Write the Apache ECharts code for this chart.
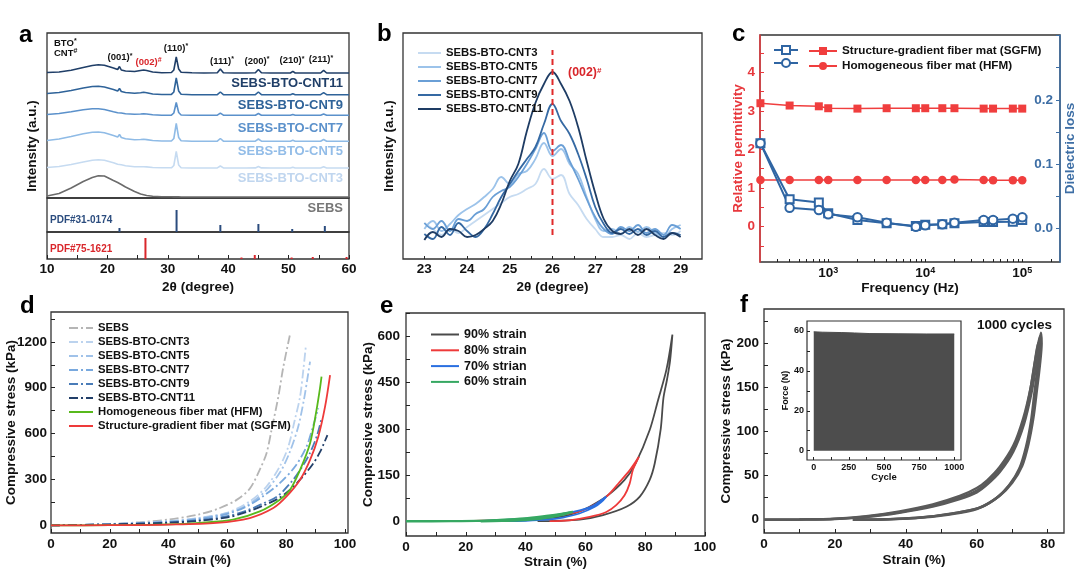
<!DOCTYPE html>
<html><head><meta charset="utf-8">
<script src="https://cdn.jsdelivr.net/npm/echarts@6/dist/echarts.min.js"></script>
<style>html,body{margin:0;padding:0;background:#fff}#c{width:1080px;height:571px}</style>
</head><body><div id="c"></div>
<script>
const FONT = '"Liberation Sans", Arial, Helvetica, sans-serif';

// ---------- panel a : XRD ----------
const xrdX = [10,12,14,16,17.5,18.5,19.5,21,21.7,22,22.3,23,24.5,25.5,26,26.5,27.5,29,30.6,31.0,31.4,31.8,32.2,34,36,38.2,38.7,39.2,41,43,44.5,45,45.5,47,49,50.3,50.7,51.1,53,55.3,55.8,56.3,58,60];
const xrdCNT11 = [125.5,126,127.7,130.5,132.5,133.3,132.8,130,128.5,131.5,128,127,126.5,127.5,128,127.5,126,125.3,125.5,128,141,129,125.8,125.2,125,125.3,129,125.3,125,125,125.3,128.5,125.3,125,125,125,126.7,125,125,125,127.7,125,125,125];
const xrdCNT9 = [104.5,105.5,107.5,110,111.5,111.8,111,108.5,107,109.5,106.5,105.5,104.8,105.3,105.8,105.3,104,103.5,103.6,106,120,107,103.8,103.3,103.3,103.4,106,103.4,103.3,103.3,103.4,106,103.4,103.3,103.3,103.3,104.3,103.3,103.3,103.3,105.3,103.3,103.3,103.3];
const xrdCNT7 = [83.5,84.5,86.3,88.3,89.2,89.2,88.5,86.3,85.3,86.8,85,84.3,83.8,84,84.3,84,83.2,82.8,82.9,85,95.5,85.5,83,82.7,82.7,82.8,84.8,82.8,82.7,82.7,82.8,84.5,82.8,82.7,82.7,82.7,83.5,82.7,82.7,82.7,84,82.7,82.7,82.7];
const xrdCNT5 = [57.5,59,61.5,64.3,65.8,66,65.3,62.5,61,63.5,60.5,59.3,58.3,58.5,58.8,58.4,57.5,57,57,59.5,74.5,60.5,57.2,56.8,56.7,56.8,59.5,56.8,56.7,56.7,56.8,59,56.8,56.7,56.7,56.7,57.7,56.7,56.7,56.7,58.5,56.7,56.7,56.7];
const xrdCNT3 = [30.5,31.5,33.5,36,37.8,38.3,37.8,35.3,33.8,35.8,33.2,32.3,31.3,31.2,31.3,31.1,30.5,30.2,30.2,32.5,46.5,33,30.3,30,30,30.1,32,30.1,30,30,30.1,31.5,30.1,30,30,30,30.8,30,30,30,31.2,30,30,30];
const xrdSEBS = [2,4.5,10,16.5,20.5,22.3,22,17.5,15.5,14.5,13.5,11,6.5,4,3.3,2.5,1.8,1.3,1.2,1.1,1.1,1.1,1,1,1,1,1,1,1,1,1,1,1,1,1,1,1,1,1,1,1,1,1,1];
const pdf31 = [[22.0,4],[31.45,22],[38.7,7],[45.0,8],[50.6,3],[56.0,6]];
const pdf75 = [[26.3,21],[42.2,1.5],[44.4,4],[50.5,1.5],[54.0,2],[59.6,2]];
const aTicksX = [10,20,30,40,50,60];

// ---------- panel b : (002) peak ----------
const bX = [23,23.2,23.4,23.6,23.8,24,24.2,24.4,24.6,24.8,25,25.2,25.4,25.6,25.8,26,26.2,26.4,26.6,26.8,27,27.2,27.4,27.6,27.8,28,28.2,28.4,28.6,28.8,29];
const bCNT3 = [36,30,24,30,26,32,38,44,50,56,62,65,70,75,90,80,84,65,54,40,30,22,22,24,20,26,22,24,26,24,28];
const bCNT5 = [30,38,28,35,44,50,55,62,70,82,75,85,88,100,116,103,110,95,85,62,40,28,30,25,32,27,32,26,22,30,34];
const bCNT7 = [36,30,38,28,40,38,45,50,62,68,72,82,95,110,126,108,114,98,80,60,42,30,25,32,28,34,26,30,24,34,30];
const bCNT9 = [25,20,32,24,36,28,22,30,45,62,75,88,100,112,135,155,138,125,105,80,52,35,26,30,25,30,24,28,22,26,24];
const bCNT11 = [19,27,22,30,28,22,24,30,38,55,78,95,128,156,175,187,175,158,132,98,66,40,28,25,30,24,30,24,20,26,22];
const bRefLine = [[26,24],[26,209]];
const bTicksX = [23,24,25,26,27,28,29];

// ---------- panel c : dielectric ----------
const cFreq = [200,400,800,1000,2000,4000,8000,10000,15000,20000,40000,50000,80000,100000];
const cPermSGFM = [3.20,3.14,3.12,3.07,3.06,3.07,3.07,3.07,3.07,3.07,3.06,3.06,3.06,3.06];
const cPermHFM = [1.21,1.21,1.21,1.21,1.21,1.21,1.21,1.21,1.21,1.22,1.21,1.20,1.20,1.20];
const cLossSGFM = [0.1325,0.0452,0.040,0.0234,0.013,0.0078,0.0036,0.0056,0.0062,0.0078,0.0098,0.0098,0.0103,0.013];
const cLossHFM = [0.1325,0.0321,0.0285,0.0218,0.0171,0.0088,0.0025,0.0047,0.0062,0.0088,0.013,0.013,0.015,0.0171];
const cTicksLeft = [0,1,2,3,4];
const cTicksRight = [0,0.1,0.2];

// ---------- panel d : compressive curves ----------
const dSEBS = [[0,0],[10,3],[20,9],[30,20],[40,38],[50,70],[57,110],[63,165],[67.6,240],[71,364],[73.3,472],[75,624],[77.3,840],[79,1035],[81.2,1241]];
const dCNT3 = [[0,0],[20,8],[40,28],[50,48],[59.7,81],[67.6,157],[73.3,254],[77.8,385],[80.7,515],[82.9,689],[84.7,841],[85.8,1015],[86.7,1178]];
const dCNT5 = [[0,0],[20,8],[40,26],[50,45],[60,80],[67,135],[73,225],[78,350],[81,470],[84,640],[86,820],[87.2,960],[88.1,1070]];
const dCNT7 = [[0,0],[20,7],[40,23],[50,40],[60,75],[67,128],[72,189],[77.8,276],[83,385],[86.9,515],[89,640],[90.9,766]];
const dCNT9 = [[0,0],[20,6],[40,19],[50,33],[60,60],[67,100],[72,142],[77,190],[82,290],[85,370],[88,470],[90.5,590],[92,700]];
const dCNT11 = [[0,0],[20,6],[40,17],[50,29],[60,52],[67,90],[72,128],[77,172],[81,228],[85,305],[89,400],[91.5,480],[94,590]];
const dHFM = [[0,0],[20,1],[40,6],[50.6,16],[61.9,37],[71,91],[77.8,168],[81.3,233],[84.7,363],[88.1,537],[90.3,755],[91.5,900],[92,972]];
const dSGFM = [[0,0],[20,1],[40,5],[56.3,16],[67.6,48],[75.6,113],[80.1,189],[84.7,298],[88.1,428],[90.9,580],[93.2,776],[94.9,983]];
const dTicksX = [0,20,40,60,80,100];
const dTicksY = [0,300,600,900,1200];

// ---------- panel e : cyclic at different strains ----------
const e90 = [[0,0],[20,0.5],[30,2],[40,5],[46,9],[52.5,16],[57,28],[61.4,47],[67,80],[73.1,134],[76.8,188],[81.5,296],[84.3,393],[87.1,492],[89.1,606],[88.3,520],[87.3,460],[86.1,400],[85.2,300],[83.2,188],[81.5,134],[78.2,80],[73.7,47],[65.9,20],[58.1,5],[50,1],[44,0]];
const e80 = [[0,0],[20,0.6],[30,2.5],[40,7],[47,14],[52.5,22],[58.1,32],[63.7,57],[67.6,85],[71.5,128],[74.8,165],[77.9,209],[75.9,167],[74.8,122],[73.1,84],[70.3,52],[67,30],[61.4,14],[54.7,3],[48,0]];
const e70 = [[0,0],[20,0.8],[30,3],[40,8],[47,16],[52.5,24],[58.1,35],[61.4,45],[63.7,57],[67,80],[65.3,62],[63,46],[58,25],[52.5,12],[47,5],[40,1.5],[33,0]];
const e60 = [[0,0],[15,0.3],[23.5,1],[29.6,3.3],[39.6,8.7],[46.9,17],[52,24],[55.8,30],[53,22],[49,14],[44,7],[38,3],[32,1],[25,0]];
const eTicksX = [0,20,40,60,80,100];
const eTicksY = [0,150,300,450,600];

// ---------- panel f : 1000 cycles ----------
const fLoop1 = [[0,0],[10,0.3],[20,1],[28.8,3.5],[38.2,8.5],[47.6,16],[55.2,25],[60,33],[63,42],[66.5,57],[70.3,80],[73.1,110],[75,145],[76.4,180],[77.3,200],[77.5,190],[77,168],[76.2,142],[75.3,112],[73.9,83],[72,58],[69.1,39],[65.4,24],[60,12],[52.4,6],[42.9,1.8],[33.5,0.3],[25,0]];
const fLoop2 = [[0,0],[10,0.3],[20,1.2],[28.8,4],[38.2,9.5],[47.6,17.5],[55.2,27],[60,36],[63,45],[66.5,60],[70.3,84],[73.1,115],[75.2,150],[76.8,188],[77.8,208],[78,196],[77.5,172],[76.7,146],[75.7,115],[74.3,85],[72.4,60],[69.6,41],[66,26],[60.6,13.5],[53,7],[43.5,2.2],[34,0.5],[26,0]];
const fLoop3 = [[0,0],[10,0.2],[20,0.8],[28.8,3],[38.2,8],[47.6,15],[55.2,23.5],[60,31],[63,40],[66.5,54],[70.3,77],[73.3,108],[75.4,143],[77,180],[78.1,212],[78.3,200],[77.8,175],[77,148],[76,116],[74.6,86],[72.8,61],[70,42],[66.4,27],[61,14],[53.5,7.5],[44,2.5],[34.5,0.6],[27,0]];
const fInsetCycle = [0,60,200,290,400,600,800,1000];
const fInsetForce = [59.6,59.4,59.2,59.0,58.7,58.6,58.5,58.5];
const fTicksX = [0,20,40,60,80];
const fTicksY = [0,50,100,150,200];
const fInsetTicksX = [0,250,500,750,1000];
const fInsetTicksY = [0,20,40,60];

// ---------- helpers ----------
function minorOf(major, step, lo, hi) {
  const out = [];
  for (let v = lo; v <= hi + 1e-9; v += step) out.push(Math.round(v * 1000) / 1000);
  return out;
}
function ax(p) {
  const a = {
    type: p.type || 'value', gridIndex: p.g, min: p.min, max: p.max,
    position: p.position,
    axisLine: p.line ? {show: true, onZero: false, lineStyle: {color: p.line, width: 1.5}} : {show: false, onZero: false},
    splitLine: {show: false},
    axisTick: p.ticks ? {show: true, inside: true, length: p.tickLen || 4, lineStyle: {color: p.tickColor || '#222', width: 1}, customValues: p.ticks} : {show: false},
    axisLabel: p.labels ? {show: true, customValues: p.labels, margin: p.margin == null ? 4 : p.margin, inside: !!p.inside,
      fontFamily: FONT, fontWeight: 'bold', fontSize: p.fs || 13.5, color: p.color || '#111',
      formatter: p.fmt || (v => String(v)), rich: p.rich} : {show: false},
    name: p.name || '', nameLocation: 'middle', nameGap: p.gap || 0, nameMoveOverlap: false,
    nameTextStyle: {fontFamily: FONT, fontWeight: 'bold', fontSize: p.nfs || 13.5, color: p.ncolor || '#111'}
  };
  if (p.logBase) a.logBase = p.logBase;
  return a;
}
const gridBase = {show: true, borderColor: '#333', borderWidth: 1.3, backgroundColor: 'transparent', outerBoundsMode: 'none', containLabel: false};
function grid(left, top, width, height, extra) { return Object.assign({}, gridBase, {left, top, width, height}, extra || {}); }
const xy = (xs, ys) => xs.map((x, i) => [x, ys[i]]);
function line(name, xi, yi, data, color, width, extra) {
  return Object.assign({type: 'line', name, xAxisIndex: xi, yAxisIndex: yi, data, symbol: 'none', silent: true,
    lineStyle: {color, width}, itemStyle: {color}, animation: false}, extra || {});
}
function T(x, y, text, size, color, align, rich, rotation) {
  return {type: 'text', x, y, rotation: rotation || 0, silent: true, z: 100,
    style: {text, fill: color, font: 'bold ' + size + 'px ' + FONT, align: align || 'left', verticalAlign: 'middle', rich}};
}
const supR = (fs, col) => ({s: {fontSize: fs, fontWeight: 'bold', fontFamily: FONT, fill: col, verticalAlign: 'top'}});

// colours
const cA = {c11: '#203f68', c9: '#2f6399', c7: '#5b91cb', c5: '#8fbbe6', c3: '#c6dbf1', sebs: '#6b6b6b'};
const cB = {c3: '#c6dbf1', c5: '#9cc3ea', c7: '#6a9fd6', c9: '#3569a3', c11: '#1e3c64'};
const RED = '#f03e3e', BLUE = '#2f65a3';

const dash = [9, 3, 2, 3];
const legendText = (fs, lh) => ({fontFamily: FONT, fontWeight: 'bold', fontSize: fs, color: '#111', lineHeight: lh});
const noSym = {opacity: 0};

const option = {
  animation: false,
  backgroundColor: '#fff',
  grid: [
    grid(47, 33, 302, 165),   // 0 a1
    grid(47, 198, 302, 34),   // 1 a2
    grid(47, 232, 302, 27),   // 2 a3
    grid(403, 33, 299, 226),  // 3 b
    grid(760, 35, 300, 227),  // 4 c
    grid(51, 312, 297, 221),  // 5 d
    grid(406, 313, 299, 223), // 6 e
    grid(764, 309, 300, 224), // 7 f
    grid(807, 321, 154, 139, {backgroundColor: '#fff', borderWidth: 1.2}) // 8 f inset
  ],
  xAxis: [
    ax({g: 0, min: 10, max: 60}),
    ax({g: 1, min: 10, max: 60}),
    ax({g: 2, min: 10, max: 60, labels: aTicksX, ticks: minorOf(aTicksX, 5, 10, 60), margin: 3, name: '2θ (degree)', gap: 21}),
    ax({g: 3, min: 22.5, max: 29.5, labels: bTicksX, ticks: minorOf(bTicksX, 0.5, 23, 29), tickLen: 3, margin: 3, name: '2θ (degree)', gap: 21}),
    ax({g: 4, type: 'log', logBase: 10, min: 198, max: 245000,
        labels: [1000, 10000, 100000],
        ticks: [300,400,500,600,700,800,900,1000,2000,3000,4000,5000,6000,7000,8000,9000,10000,20000,30000,40000,50000,60000,70000,80000,90000,100000,200000],
        tickLen: 3, margin: 4,
        fmt: v => { const l = Math.round(Math.log10(v)); return Math.abs(Math.log10(v) - l) < 1e-6 ? '10{s|' + l + '}' : ''; },
        rich: {s: {fontSize: 9, fontWeight: 'bold', fontFamily: FONT, color: '#111', verticalAlign: 'top', padding: [0, 0, 6, 0]}},
        name: 'Frequency (Hz)', gap: 19}),
    ax({g: 5, min: 0, max: 101, labels: dTicksX, ticks: minorOf(dTicksX, 10, 0, 100), margin: 4, name: 'Strain (%)', gap: 20}),
    ax({g: 6, min: 0, max: 100, labels: eTicksX, ticks: minorOf(eTicksX, 10, 0, 100), margin: 4, name: 'Strain (%)', gap: 19}),
    ax({g: 7, min: 0, max: 84.6, labels: fTicksX, ticks: minorOf(fTicksX, 10, 0, 80), margin: 4, name: 'Strain (%)', gap: 20}),
    ax({g: 8, min: -48, max: 1048, labels: fInsetTicksX, ticks: minorOf(fInsetTicksX, 125, 0, 1000), tickLen: 3, fs: 9, margin: 3, name: 'Cycle', nfs: 9.5, gap: 12})
  ],
  yAxis: [
    ax({g: 0, min: 0, max: 165}),
    ax({g: 1, min: 0, max: 34}),
    ax({g: 2, min: 0, max: 27}),
    ax({g: 3, min: 0, max: 226, name: 'Intensity (a.u.)', gap: 7}),
    ax({g: 4, min: -0.92, max: 4.97, position: 'left', line: '#e8383d', labels: cTicksLeft, ticks: minorOf(cTicksLeft, 0.5, -0.5, 4.5),
        tickColor: '#e8383d', color: '#e8383d', margin: 5, name: 'Relative permittivity', ncolor: '#e8383d', gap: 15}),
    ax({g: 4, min: -0.0525, max: 0.301, position: 'right', line: '#3d6ea5', labels: cTicksRight, ticks: minorOf(cTicksRight, 0.05, 0, 0.3),
        tickColor: '#3d6ea5', color: '#3d6ea5', inside: true, margin: 7, fmt: v => v.toFixed(1),
        name: 'Dielectric loss', ncolor: '#3d6ea5', gap: 3}),
    ax({g: 5, min: -50, max: 1395, labels: dTicksY, ticks: minorOf(dTicksY, 150, 0, 1350), margin: 4, name: 'Compressive stress (kPa)', gap: 33}),
    ax({g: 6, min: -48, max: 676, labels: eTicksY, ticks: minorOf(eTicksY, 75, 0, 675), margin: 6, name: 'Compressive stress (kPa)', gap: 31}),
    ax({g: 7, min: -15, max: 238.8, labels: fTicksY, ticks: minorOf(fTicksY, 25, 0, 225), margin: 5, name: 'Compressive stress (kPa)', gap: 31}),
    ax({g: 8, min: -4.66, max: 65, labels: fInsetTicksY, ticks: minorOf(fInsetTicksY, 10, 0, 60), tickLen: 3, fs: 9, margin: 3, name: 'Force (N)', nfs: 9, gap: 17})
  ],
  legend: [
    {data: ['SEBS-BTO-CNT3','SEBS-BTO-CNT5','SEBS-BTO-CNT7','SEBS-BTO-CNT9','SEBS-BTO-CNT11'], left: 412, top: 42, orient: 'vertical',
     itemWidth: 23, itemHeight: 10, itemGap: 2, selectedMode: false, itemStyle: noSym, textStyle: legendText(11.3, 12)},
    {data: ['SGFM loss', 'HFM loss'], left: 768, top: 40, orient: 'vertical', formatter: () => '',
     itemWidth: 24, itemHeight: 10, itemGap: 3, selectedMode: false, textStyle: legendText(11.7, 12)},
    {data: ['Structure-gradient fiber mat (SGFM)', 'Homogeneous fiber mat (HFM)'], left: 803, top: 40, orient: 'vertical',
     itemWidth: 28, itemHeight: 10, itemGap: 3, selectedMode: false, textStyle: legendText(11.7, 12)},
    {data: ['SEBS ', 'SEBS-BTO-CNT3 ', 'SEBS-BTO-CNT5 ', 'SEBS-BTO-CNT7 ', 'SEBS-BTO-CNT9 ', 'SEBS-BTO-CNT11 ', 'Homogeneous fiber mat (HFM) ', 'Structure-gradient fiber mat (SGFM) '],
     left: 63, top: 317, orient: 'vertical', itemWidth: 24, itemHeight: 10, itemGap: 2, selectedMode: false, itemStyle: noSym, textStyle: legendText(11.3, 12)},
    {data: ['90% strain', '80% strain', '70% strian', '60% strain'], left: 425, top: 323, orient: 'vertical',
     itemWidth: 28, itemHeight: 10, itemGap: 2.8, selectedMode: false, itemStyle: noSym, textStyle: legendText(12.5, 13)}
  ],
  series: [
    // a
    line('', 0, 0, xy(xrdX, xrdSEBS), cA.sebs, 1.6),
    line('', 0, 0, xy(xrdX, xrdCNT3), cA.c3, 1.6),
    line('', 0, 0, xy(xrdX, xrdCNT5), cA.c5, 1.6),
    line('', 0, 0, xy(xrdX, xrdCNT7), cA.c7, 1.6),
    line('', 0, 0, xy(xrdX, xrdCNT9), cA.c9, 1.6),
    line('', 0, 0, xy(xrdX, xrdCNT11), cA.c11, 1.6),
    {type: 'bar', xAxisIndex: 1, yAxisIndex: 1, data: pdf31, barWidth: 2, itemStyle: {color: '#2b4c7e'}, silent: true},
    {type: 'bar', xAxisIndex: 2, yAxisIndex: 2, data: pdf75, barWidth: 2, itemStyle: {color: '#d9262b'}, silent: true},
    // b
    line('SEBS-BTO-CNT3', 3, 3, xy(bX, bCNT3), cB.c3, 1.8, {smooth: 0.4}),
    line('SEBS-BTO-CNT5', 3, 3, xy(bX, bCNT5), cB.c5, 1.8, {smooth: 0.4}),
    line('SEBS-BTO-CNT7', 3, 3, xy(bX, bCNT7), cB.c7, 1.8, {smooth: 0.4}),
    line('SEBS-BTO-CNT9', 3, 3, xy(bX, bCNT9), cB.c9, 1.8, {smooth: 0.4}),
    line('SEBS-BTO-CNT11', 3, 3, xy(bX, bCNT11), cB.c11, 1.8, {smooth: 0.4}),
    line('ref', 3, 3, bRefLine, '#e02a2a', 2, {lineStyle: {color: '#e02a2a', width: 2, type: [6, 4]}}),
    // c
    line('Structure-gradient fiber mat (SGFM)', 4, 4, xy(cFreq, cPermSGFM), RED, 1.5, {symbol: 'rect', symbolSize: 8, showAllSymbol: true}),
    line('Homogeneous fiber mat (HFM)', 4, 4, xy(cFreq, cPermHFM), RED, 1.5, {symbol: 'circle', symbolSize: 8.5, showAllSymbol: true}),
    line('SGFM loss', 4, 5, xy(cFreq, cLossSGFM), BLUE, 2, {symbol: 'emptyRect', symbolSize: 8, showAllSymbol: true}),
    line('HFM loss', 4, 5, xy(cFreq, cLossHFM), BLUE, 2, {symbol: 'emptyCircle', symbolSize: 8.5, showAllSymbol: true}),
    // d
    line('SEBS ', 5, 6, dSEBS, '#b5b5b5', 1.8, {smooth: 0.3, lineStyle: {color: '#b5b5b5', width: 1.8, type: dash}}),
    line('SEBS-BTO-CNT3 ', 5, 6, dCNT3, '#bcd3ee', 1.8, {smooth: 0.3, lineStyle: {color: '#bcd3ee', width: 1.8, type: dash}}),
    line('SEBS-BTO-CNT5 ', 5, 6, dCNT5, '#a0c2e9', 1.8, {smooth: 0.3, lineStyle: {color: '#a0c2e9', width: 1.8, type: dash}}),
    line('SEBS-BTO-CNT7 ', 5, 6, dCNT7, '#79a9de', 1.8, {smooth: 0.3, lineStyle: {color: '#79a9de', width: 1.8, type: dash}}),
    line('SEBS-BTO-CNT9 ', 5, 6, dCNT9, '#4a7cb8', 1.8, {smooth: 0.3, lineStyle: {color: '#4a7cb8', width: 1.8, type: dash}}),
    line('SEBS-BTO-CNT11 ', 5, 6, dCNT11, '#223f69', 1.8, {smooth: 0.3, lineStyle: {color: '#223f69', width: 1.8, type: dash}}),
    line('Homogeneous fiber mat (HFM) ', 5, 6, dHFM, '#58b91c', 1.8, {smooth: 0.3}),
    line('Structure-gradient fiber mat (SGFM) ', 5, 6, dSGFM, '#ee3a3a', 1.8, {smooth: 0.3}),
    // e
    line('90% strain', 6, 7, e90, '#4a4a4a', 1.8, {smooth: 0.3}),
    line('80% strain', 6, 7, e80, '#ee3a3a', 1.8, {smooth: 0.3}),
    line('70% strian', 6, 7, e70, '#2a6fe0', 1.8, {smooth: 0.3}),
    line('60% strain', 6, 7, e60, '#36a862', 2.4, {smooth: 0.3}),
    // f
    line('f1', 7, 8, fLoop1, '#5a5a5a', 2.4, {smooth: 0.3}),
    line('f2', 7, 8, fLoop2, '#5a5a5a', 2.4, {smooth: 0.3}),
    line('f3', 7, 8, fLoop3, '#5a5a5a', 2.4, {smooth: 0.3}),
    line('inset', 8, 9, xy(fInsetCycle, fInsetForce), '#4d4d4d', 1, {areaStyle: {color: '#4d4d4d', origin: 0, opacity: 1}})
  ],
  graphic: [
    T(19, 35, 'a', 24, '#000'), T(377, 34.7, 'b', 24, '#000'), T(732, 34.7, 'c', 24, '#000'),
    T(20, 306.7, 'd', 24, '#000'), T(380, 306.7, 'e', 24, '#000'), T(740, 305, 'f', 24, '#000'),
    T(32, 146, 'Intensity (a.u.)', 13.5, '#111', 'center', null, Math.PI / 2),
    // panel a annotations
    T(54, 43, 'BTO{s|*}', 9.5, '#111', 'left', supR(7, '#111')),
    T(54, 53, 'CNT{s|#}', 9.5, '#111', 'left', supR(7, '#111')),
    T(120, 57.5, '(001){s|*}', 9.5, '#111', 'center', supR(7, '#111')),
    T(148.5, 62, '(002){s|#}', 9.5, '#d9262b', 'center', supR(7, '#d9262b')),
    T(176, 48, '(110){s|*}', 9.5, '#111', 'center', supR(7, '#111')),
    T(222, 61, '(111){s|*}', 9.5, '#111', 'center', supR(7, '#111')),
    T(257, 61, '(200){s|*}', 9.5, '#111', 'center', supR(7, '#111')),
    T(292, 60.7, '(210){s|*}', 9.5, '#111', 'center', supR(7, '#111')),
    T(321, 59.7, '(211){s|*}', 9.5, '#111', 'center', supR(7, '#111')),
    T(343, 83, 'SEBS-BTO-CNT11', 13, cA.c11, 'right'),
    T(343, 105, 'SEBS-BTO-CNT9', 13, cA.c9, 'right'),
    T(343, 128, 'SEBS-BTO-CNT7', 13, cA.c7, 'right'),
    T(343, 151.5, 'SEBS-BTO-CNT5', 13, '#93bde8', 'right'),
    T(343, 178.5, 'SEBS-BTO-CNT3', 13, '#c0d6ef', 'right'),
    T(343, 208, 'SEBS', 13, '#777', 'right'),
    T(50, 220, 'PDF#31-0174', 10, '#2b4c7e'),
    T(50, 249, 'PDF#75-1621', 10, '#d9262b'),
    // panel b
    T(568, 73, '(002){s|#}', 12.4, '#d9262b', 'left', supR(8, '#d9262b')),
    // panel f
    T(1052, 325, '1000 cycles', 13.5, '#111', 'right')
  ]
};
const chart = echarts.init(document.getElementById('c'), null, {renderer: 'canvas'});
chart.setOption(option);
</script></body></html>
